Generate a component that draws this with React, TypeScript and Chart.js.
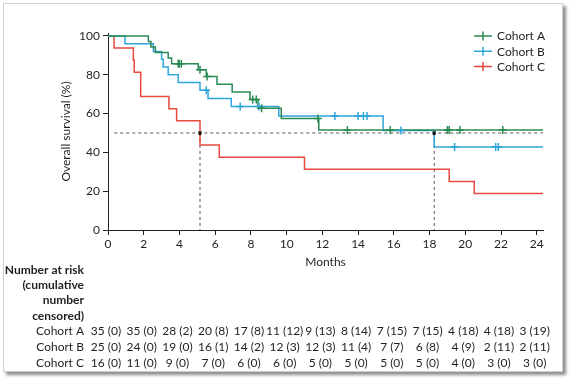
import React, { useEffect, useRef } from 'react';
import { Chart, registerables } from 'chart.js';

Chart.register(...registerables);

// ---------- data ----------
const monthTicks = [0, 2, 4, 6, 8, 10, 12, 14, 16, 18, 20, 22, 24];
const survivalTicks = [0, 20, 40, 60, 80, 100];
const cohortNames = ['Cohort A', 'Cohort B', 'Cohort C'];
const cohortColors = ['#2b8a52', '#2ea6d9', '#e8493f'];
const followUpEnd = 24.35;

// Kaplan-Meier steps: event time (months) and survival (%) after the event
const cohortATimes = [0, 2.26, 2.4, 2.65, 3.37, 3.56, 5.05, 5.5, 6.1, 6.95, 7.95, 8.4, 9.7, 11.8, followUpEnd];
const cohortASurv = [100, 97.1, 94.3, 91.4, 88.6, 85.7, 82.6, 79.1, 75.1, 71.1, 67.2, 62.7, 57.5, 51.5, 51.5];
const cohortACensored = [3.93, 3.98, 4.1, 5.15, 5.55, 8.1, 8.3, 8.6, 11.75, 13.4, 15.8, 19.0, 19.1, 19.7, 22.1];

const cohortBTimes = [0, 0.95, 2.54, 3.0, 3.09, 3.37, 3.93, 5.15, 5.6, 6.9, 9.56, 15.4, 18.26, followUpEnd];
const cohortBSurv = [100, 96, 92, 88, 84, 80, 76, 72, 67.8, 63.6, 58.7, 51.3, 42.8, 42.8];
const cohortBCensored = [5.5, 7.4, 8.45, 12.7, 14.0, 14.3, 14.5, 16.4, 19.4, 21.7, 21.85];

const cohortCTimes = [0, 0.34, 1.42, 1.47, 1.83, 3.41, 3.84, 5.15, 6.23, 11.0, 19.1, 20.5, followUpEnd];
const cohortCSurv = [100, 93.75, 87.5, 81.25, 68.75, 62.5, 56.25, 43.75, 37.5, 31.25, 25, 18.75, 18.75];

const medianTimes = [5.15, 18.26];
const medianSurvival = 50;
const medianLineStart = 0.35;

// Number at risk (cumulative number censored)
const atRiskA = [35, 35, 28, 20, 17, 11, 9, 8, 7, 7, 4, 4, 3];
const censoredA = [0, 0, 2, 8, 8, 12, 13, 14, 15, 15, 18, 18, 19];
const atRiskB = [25, 24, 19, 16, 14, 12, 12, 11, 7, 6, 4, 2, 2];
const censoredB = [0, 0, 0, 1, 2, 3, 3, 4, 7, 8, 9, 11, 11];
const atRiskC = [16, 11, 9, 7, 6, 6, 5, 5, 5, 5, 4, 3, 3];
const censoredC = [0, 0, 0, 0, 0, 0, 0, 0, 0, 0, 0, 0, 0];
const tableHeader = ['Number at risk', '(cumulative', 'number', 'censored)'];

// ---------- styling ----------
const FONT = 'Lato, "Open Sans", sans-serif';
const TEXT = '#231f20';
const AXIS = '#231f20';

function survivalAt(times: number[], surv: number[], t: number): number {
  let v = surv[0];
  for (let i = 0; i < times.length; i++) {
    if (times[i] <= t) v = surv[i];
  }
  return v;
}

function stepDataset(name: string, times: number[], surv: number[], color: string) {
  return {
    type: 'line' as const,
    label: name,
    data: times.map((t, i) => ({ x: t, y: surv[i] })),
    borderColor: color,
    backgroundColor: color,
    borderWidth: 1.5,
    pointRadius: 0,
    stepped: 'before' as const,
    fill: false,
  };
}

function censorDataset(name: string, cens: number[], times: number[], surv: number[], color: string) {
  return {
    type: 'scatter' as const,
    label: name + ' censored',
    data: cens.map((t) => ({ x: t, y: survivalAt(times, surv, t) })),
    borderColor: color,
    backgroundColor: color,
    pointStyle: 'cross' as const,
    pointRadius: 4,
    borderWidth: 1.5,
    showLine: false,
  };
}

function dashedDataset(points: { x: number; y: number }[]) {
  return {
    type: 'line' as const,
    label: 'median',
    data: points,
    borderColor: '#555',
    borderWidth: 1,
    borderDash: [3, 3],
    pointRadius: 0,
    fill: false,
  };
}

const legendPlugin = {
  id: 'kmLegend',
  afterDraw(chart: any) {
    const { ctx, chartArea } = chart;
    const x0 = chartArea.right - 69;
    ctx.save();
    ctx.font = `12px ${FONT}`;
    ctx.textBaseline = 'middle';
    ctx.textAlign = 'left';
    cohortNames.forEach((name, i) => {
      const y = chartArea.top + 3 + i * 15.2;
      ctx.strokeStyle = cohortColors[i];
      ctx.lineWidth = 1.5;
      ctx.beginPath();
      ctx.moveTo(x0, y);
      ctx.lineTo(x0 + 18, y);
      ctx.moveTo(x0 + 9, y - 4.5);
      ctx.lineTo(x0 + 9, y + 4.5);
      ctx.stroke();
      ctx.fillStyle = TEXT;
      ctx.fillText(name, x0 + 23, y + 0.5);
    });
    ctx.restore();
  },
};

const atRiskPlugin = {
  id: 'atRisk',
  afterDraw(chart: any) {
    const { ctx } = chart;
    const xs = chart.scales.x;
    const rows = [
      { name: cohortNames[0], n: atRiskA, c: censoredA },
      { name: cohortNames[1], n: atRiskB, c: censoredB },
      { name: cohortNames[2], n: atRiskC, c: censoredC },
    ];
    ctx.save();
    ctx.fillStyle = TEXT;
    ctx.textBaseline = 'middle';
    ctx.textAlign = 'right';
    ctx.font = `bold 12px ${FONT}`;
    tableHeader.forEach((line, i) => ctx.fillText(line, 84, 270 + i * 15.3));
    ctx.font = `12px ${FONT}`;
    rows.forEach((row, r) => {
      const y = 331 + r * 16;
      ctx.textAlign = 'right';
      ctx.fillText(row.name, 84, y);
      ctx.textAlign = 'center';
      row.n.forEach((n, i) => {
        ctx.fillText(`${n} (${row.c[i]})`, xs.getPixelForValue(monthTicks[i]) - 2, y);
      });
    });
    ctx.restore();
  },
};

export default function App() {
  const ref = useRef<HTMLCanvasElement | null>(null);

  useEffect(() => {
    if (!ref.current) return;
    const datasets: any[] = [
      {
        type: 'scatter',
        label: 'median markers',
        data: medianTimes.map((t) => ({ x: t, y: medianSurvival })),
        borderColor: '#111',
        backgroundColor: '#111',
        pointStyle: 'crossRot',
        pointRadius: 2,
        borderWidth: 1.5,
        showLine: false,
      },
      censorDataset(cohortNames[0], cohortACensored, cohortATimes, cohortASurv, cohortColors[0]),
      censorDataset(cohortNames[1], cohortBCensored, cohortBTimes, cohortBSurv, cohortColors[1]),
      stepDataset(cohortNames[0], cohortATimes, cohortASurv, cohortColors[0]),
      stepDataset(cohortNames[1], cohortBTimes, cohortBSurv, cohortColors[1]),
      stepDataset(cohortNames[2], cohortCTimes, cohortCSurv, cohortColors[2]),
      dashedDataset([
        { x: medianLineStart, y: medianSurvival },
        { x: followUpEnd, y: medianSurvival },
      ]),
      ...medianTimes.map((t) =>
        dashedDataset([
          { x: t, y: medianSurvival },
          { x: t, y: 0 },
        ])
      ),
    ];

    const chart = new Chart(ref.current, {
      type: 'line',
      data: { datasets },
      options: {
        responsive: false,
        animation: false,
        events: [],
        layout: { padding: { left: 0, right: 29, top: 33, bottom: 112 } },
        plugins: {
          legend: { display: false },
          tooltip: { enabled: false },
        },
        scales: {
          x: {
            type: 'linear',
            min: 0,
            max: followUpEnd,
            afterBuildTicks: (scale: any) => {
              scale.ticks = monthTicks.map((v) => ({ value: v }));
            },
            afterFit: (scale: any) => {
              scale.height = 40;
            },
            border: { display: true, color: AXIS, width: 1 },
            grid: { display: true, drawOnChartArea: false, drawTicks: true, tickLength: 5, color: AXIS },
            ticks: {
              maxRotation: 0,
              autoSkip: false,
              padding: 2,
              color: TEXT,
              font: { family: FONT, size: 12 },
            },
            title: {
              display: true,
              text: 'Months',
              color: TEXT,
              font: { family: FONT, size: 12 },
              padding: { top: 0, bottom: 1 },
            },
          },
          y: {
            type: 'linear',
            min: 0,
            max: 101.5,
            afterBuildTicks: (scale: any) => {
              scale.ticks = survivalTicks.map((v) => ({ value: v }));
            },
            afterFit: (scale: any) => {
              scale.width = 108;
            },
            border: { display: true, color: AXIS, width: 1 },
            grid: { display: true, drawOnChartArea: false, drawTicks: true, tickLength: 5, color: AXIS },
            ticks: {
              padding: 3,
              color: TEXT,
              font: { family: FONT, size: 12 },
            },
            title: {
              display: true,
              text: 'Overall survival (%)',
              color: TEXT,
              font: { family: FONT, size: 12 },
              padding: { top: 59, bottom: 0 },
            },
          },
        },
      },
      plugins: [legendPlugin, atRiskPlugin],
    });
    return () => chart.destroy();
  }, []);

  return (
    <div style={{ position: 'absolute', left: 0, top: 0, width: 572, height: 382, background: '#fff' }}>
      <div
        style={{
          position: 'absolute',
          left: 3,
          top: 3,
          width: 558,
          height: 367,
          border: '1px solid #cfcfcf',
          boxShadow: '3px 3px 3px rgba(0,0,0,0.45)',
          background: '#fff',
        }}
      />
      <canvas ref={ref} width={572} height={382} style={{ position: 'absolute', left: 0, top: 0 }} />
    </div>
  );
}
